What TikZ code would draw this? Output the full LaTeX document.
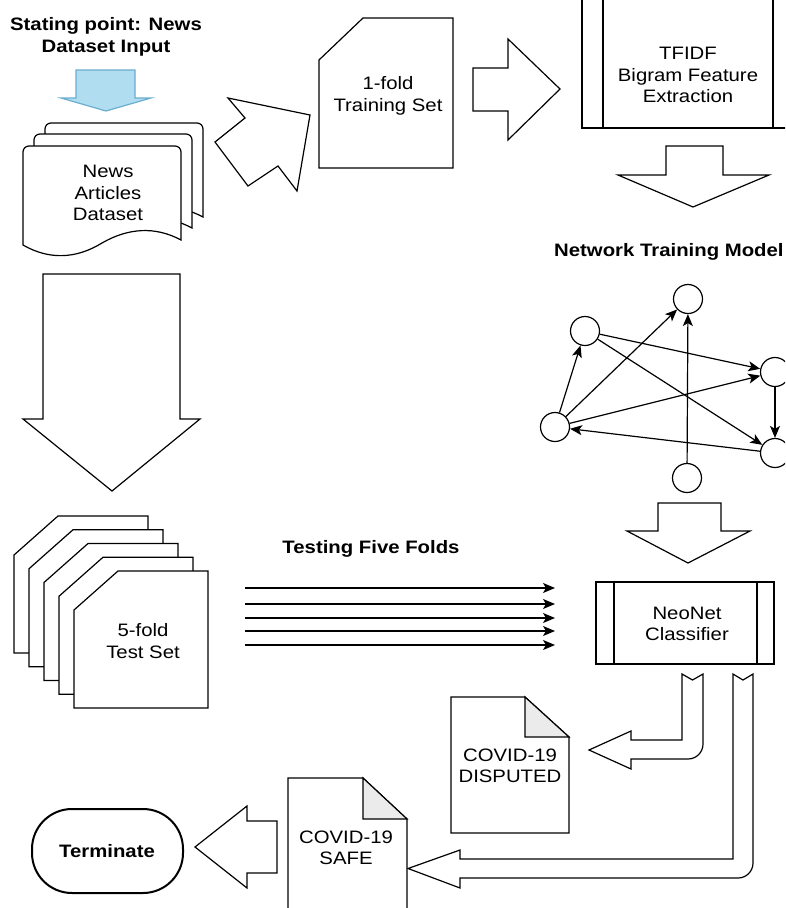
\documentclass[tikz,border=0pt]{standalone}
\usepackage{fontspec}
\setmainfont{Liberation Sans}
\usepackage{graphicx}
\usetikzlibrary{arrows.meta}
\definecolor{bluefill}{HTML}{B1DDF0}
\definecolor{bluedraw}{HTML}{6AAED0}
\definecolor{foldgrey}{HTML}{EBEBEB}
\newcommand\hs[1]{\scalebox{1.13}[1]{#1}}
\tikzset{
  shp/.style={draw=black, fill=white, line width=1.2pt, line join=miter},
  lbl/.style={font=\fontsize{18pt}{21.5pt}\selectfont, align=center, inner sep=0pt},
  blbl/.style={font=\fontsize{18pt}{21.5pt}\selectfont\bfseries, align=center, inner sep=0pt},
  nn/.style={circle, draw=black, line width=1.2pt, minimum size=29pt, inner sep=0pt, fill=white},
  ne/.style={-{Stealth[length=12pt,width=10pt,inset=3pt]}, line width=1.2pt},
  foldfill/.style={fill=foldgrey, draw=black, line width=1.2pt},
}
\begin{document}
\begin{tikzpicture}[x=1pt,y=-1pt]
\useasboundingbox (0,0) rectangle (785,908);
\clip (0,0) rectangle (785,908);
\fill[white] (0,0) rectangle (785,908);

% title
\node[blbl] (title) at (106,37) {\hs{Stating point: News}\\\hs{Dataset Input}};
% blue arrow
\draw[fill=bluefill, draw=bluedraw, line width=1.2pt] (76,70) -- (135,70) -- (135,98) -- (151,98) -- (106,111) -- (61,98) -- (76,98) -- cycle;

% multi document
\foreach \dx/\dy in {22/-23, 11/-12, 0/0} {
  \begin{scope}[shift={(\dx,\dy)}]
    \draw[shp] (23,245) -- (23,152) .. controls (23,148.7) and (25.7,146) .. (29,146)
      -- (175,146) .. controls (178.3,146) and (181,148.7) .. (181,152) -- (181,240)
      .. controls (155,226) and (128,228) .. (102,243)
      .. controls (76,259) and (49,260) .. (23,245) -- cycle;
  \end{scope}
}
\node[lbl] (nad) at (108,193) {\hs{News}\\\hs{Articles}\\\hs{Dataset}};

% diagonal block arrow
\draw[shp] (228,98) -- (245,118) -- (215,142) -- (248,186) -- (278,166) -- (297,191) -- (310,115) -- cycle;

% 1-fold training set card
\draw[shp] (319,168) -- (319,60) -- (363,18) -- (453,18) -- (453,168) -- cycle;
\node[lbl] (train) at (388,96) {\hs{1-fold}\\\hs{Training Set}};

% right block arrow
\draw[shp] (473,68) -- (508,68) -- (508,39) -- (560,89) -- (508,140) -- (508,111) -- (473,111) -- cycle;

% TFIDF process box
\draw[shp] (582,-20) rectangle (795,128);
\draw[line width=1.2pt] (603,-20) -- (603,128);
\draw[line width=1.2pt] (773,-20) -- (773,128);
\node[lbl] (tfidf) at (688,75) {\hs{TFIDF}\\\hs{Bigram Feature}\\\hs{Extraction}};

% down arrow under TFIDF
\draw[shp] (666,146) -- (723,146) -- (723,175) -- (769,175) -- (693,207) -- (618,175) -- (666,175) -- cycle;

% network
\node[blbl, anchor=west] (ntm) at (554,252) {\hs{Network Training Model}};
\node[nn] (n1) at (688,299) {};
\node[nn] (n2) at (585,331) {};
\node[nn] (n3) at (775,372) {};
\node[nn] (n4) at (555,427) {};
\node[nn] (n5) at (775,453) {};
\node[nn] (n6) at (687,478) {};
\draw[ne] (n4) -- (n2);
\draw[ne] (n4) -- (n1);
\draw[ne] (n6) -- (n1);
\draw[ne] (n2) -- (n3);
\draw[ne] (n2) -- (n5);
\draw[ne] (n4) -- (n3);
\draw[ne] (n5) -- (n4);
\draw[ne] (n3) -- (n5);

% down arrow under network
\draw[shp] (658,503) -- (721,503) -- (721,531) -- (750,531) -- (688,563) -- (627,531) -- (658,531) -- cycle;

% big down arrow left
\draw[shp] (43,274) -- (180,274) -- (180,419) -- (200,419) -- (112,491) -- (23,419) -- (43,419) -- cycle;

% 5-fold test set cards
\foreach \k in {4,3,2,1,0} {
  \begin{scope}[shift={(-15*\k,-13.75*\k)}]
    \draw[shp] (74,708) -- (74,610) -- (118,571) -- (208,571) -- (208,708) -- cycle;
  \end{scope}
}
\node[lbl] (test) at (143,641) {\hs{5-fold}\\\hs{Test Set}};

% testing five folds
\node[blbl] (tff) at (371,549) {\hs{Testing Five Folds}};
\foreach \i/\yy in {1/588, 2/604, 3/618, 4/631, 5/645} {
  \coordinate (s\i) at (245,\yy);
  \coordinate (e\i) at (555,\yy);
  \draw[ne] (s\i) -- (e\i);
}

% NeoNet classifier
\draw[shp] (596,582) rectangle (774,664);
\draw[line width=1.2pt] (614,582) -- (614,664);
\draw[line width=1.2pt] (757,582) -- (757,664);
\node[lbl] (neo) at (687,624) {\hs{NeoNet}\\\hs{Classifier}};

% bent arrow to DISPUTED
\draw[shp] (682,674) -- (692.5,680) -- (703,674) -- (703,744)
  .. controls (703,752.3) and (696.3,759) .. (688,759)
  -- (631,759) -- (631,769) -- (589,750) -- (631,731) -- (631,740) -- (682,740) -- cycle;

% bent arrow to SAFE
\draw[shp] (733,674) -- (743,680) -- (753,674) -- (753,863)
  .. controls (753,871.3) and (746.3,878) .. (738,878)
  -- (460,878) -- (460,888) -- (408,868.5) -- (460,850) -- (460,859) -- (733,859) -- cycle;

% COVID-19 DISPUTED document
\draw[shp] (451,697) -- (525,697) -- (569,737) -- (569,833) -- (451,833) -- cycle;
\draw[foldfill] (525,697) -- (525,737) -- (569,737) -- cycle;
\node[lbl] (disp) at (510,766) {\hs{COVID-19}\\\hs{DISPUTED}};

% COVID-19 SAFE document
\draw[shp] (288,778) -- (363,778) -- (407,819) -- (407,930) -- (288,930) -- cycle;
\draw[foldfill] (363,778) -- (363,819) -- (407,819) -- cycle;
\node[lbl] (safe) at (346,848) {\hs{COVID-19}\\\hs{SAFE}};

% left arrow to terminate
\draw[shp] (277,821) -- (247,821) -- (247,806) -- (195,847) -- (247,888) -- (247,873) -- (277,873) -- cycle;

% terminate
\draw[line width=2pt, fill=white, rounded corners=40pt] (32,809) rectangle (183,893);
\node[blbl] (term) at (107,851) {\hs{Terminate}};
\end{tikzpicture}
\end{document}
